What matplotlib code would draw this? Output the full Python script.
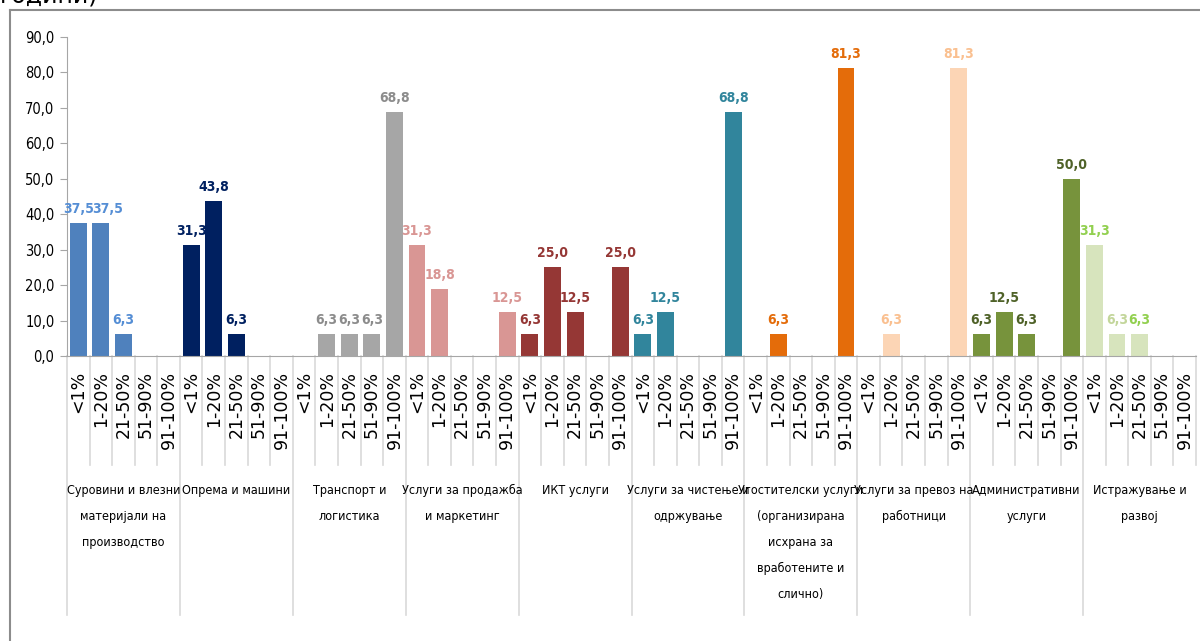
import matplotlib.pyplot as plt
from matplotlib.lines import Line2D

# categories (groups) and share bins
groups = [
    "Суровини и влезни\nматеријали на\nпроизводство",
    "Опрема и машини",
    "Транспорт и\nлогистика",
    "Услуги за продажба\nи маркетинг",
    "ИКТ услуги",
    "Услуги за чистење и\nодржување",
    "Угостителски услуги\n(организирана\nисхрана за\nвработените и\nслично)",
    "Услуги за превоз на\nработници",
    "Административни\nуслуги",
    "Истражување и\nразвој",
]
bins = ["<1%", "1-20%", "21-50%", "51-90%", "91-100%"]

values = [
    [37.5, 37.5, 6.3, 0, 0],
    [31.3, 43.8, 6.3, 0, 0],
    [0, 6.3, 6.3, 6.3, 68.8],
    [31.3, 18.8, 0, 0, 12.5],
    [6.3, 25.0, 12.5, 0, 25.0],
    [6.3, 12.5, 0, 0, 68.8],
    [0, 6.3, 0, 0, 81.3],
    [0, 6.3, 0, 0, 81.3],
    [6.3, 12.5, 6.3, 0, 50.0],
    [31.3, 6.3, 6.3, 0, 0],
]

yticks = [0, 10, 20, 30, 40, 50, 60, 70, 80, 90]

bar_colors = ["#4F81BD", "#002060", "#A6A6A6", "#D99694", "#953735",
              "#31859C", "#E46C0A", "#FCD5B5", "#77933C", "#D7E4BD"]
label_colors = ["#558ED5", "#002060", "#8C8C8C", "#D99694", "#953735",
                "#31859C", "#E46C0A", "#FAC090", "#4F6228", "#92D050"]
label_override = {(9, 1): "#C3D69B"}
# labels nudged sideways (points) to avoid touching, as in the original
label_shift = {(0, 1): 5}

NARROW = dict(family="DejaVu Sans", fontstretch="condensed")

W, H = 1200, 641
fig = plt.figure(figsize=(W / 100, H / 100), dpi=100)
ax_left, ax_right, ax_top, ax_bot = 67, 1196, 37, 356
ax = fig.add_axes([ax_left / W, 1 - ax_bot / H, (ax_right - ax_left) / W, (ax_bot - ax_top) / H])
ax_h = ax_bot - ax_top


def px_to_axes_y(py):
    return -(py - ax_bot) / ax_h


n_bins = len(bins)
for g, vals in enumerate(values):
    xs = [g * n_bins + j for j in range(n_bins)]
    ax.bar(xs, vals, width=0.75, color=bar_colors[g], zorder=2)
    for j, (x, v) in enumerate(zip(xs, vals)):
        if v <= 0:
            continue
        c = label_override.get((g, j), label_colors[g])
        dx = label_shift.get((g, j), 0)
        ax.annotate(f"{v:.1f}".replace(".", ","), (x, v), xytext=(dx, 5),
                    textcoords="offset points", ha="center", va="bottom",
                    color=c, fontsize=10, fontweight="bold", **NARROW)

n = len(groups) * n_bins
ax.set_xlim(-0.5, n - 0.5)
ax.set_ylim(0, 90)
ax.set_yticks(yticks)
ax.set_yticklabels([f"{t:.1f}".replace(".", ",") for t in yticks], fontsize=10.5, **NARROW)
ax.tick_params(axis="y", length=5, color="#A6A6A6", pad=4)
ax.set_xticks([])
for s in ("top", "right"):
    ax.spines[s].set_visible(False)
ax.spines["left"].set_color("#A6A6A6")
ax.spines["bottom"].set_color("#A6A6A6")

tr = ax.get_xaxis_transform()
short_y = px_to_axes_y(465)
long_y = px_to_axes_y(615)
for k in range(n + 1):
    bottom = long_y if k % n_bins == 0 and k < n else short_y
    ax.plot([k - 0.5, k - 0.5], [0, bottom], transform=tr, color="#D9D9D9",
            lw=1.2, clip_on=False, zorder=1)

tick_top = px_to_axes_y(371)
for i in range(n):
    ax.text(i, tick_top, bins[i % n_bins], transform=tr, rotation=90,
            ha="center", va="top", fontsize=12.5, family="DejaVu Sans", color="black")

grp_top = px_to_axes_y(484)
for g, name in enumerate(groups):
    ax.text(g * n_bins + 2, grp_top, name, transform=tr, ha="center", va="top",
            fontsize=9, linespacing=2.3, color="black", **NARROW)

# frame border and cut-off title
fig.add_artist(Line2D([10 / W, 1], [1 - 10 / H, 1 - 10 / H], color="#8C8C8C", lw=1.5))
fig.add_artist(Line2D([10 / W, 10 / W], [0, 1 - 10 / H], color="#8C8C8C", lw=1.5))
fig.text(0.0, 1 - 3 / H, "години)", fontsize=17, va="baseline", ha="left", family="DejaVu Sans")

fig.savefig("out.png", dpi=100)
